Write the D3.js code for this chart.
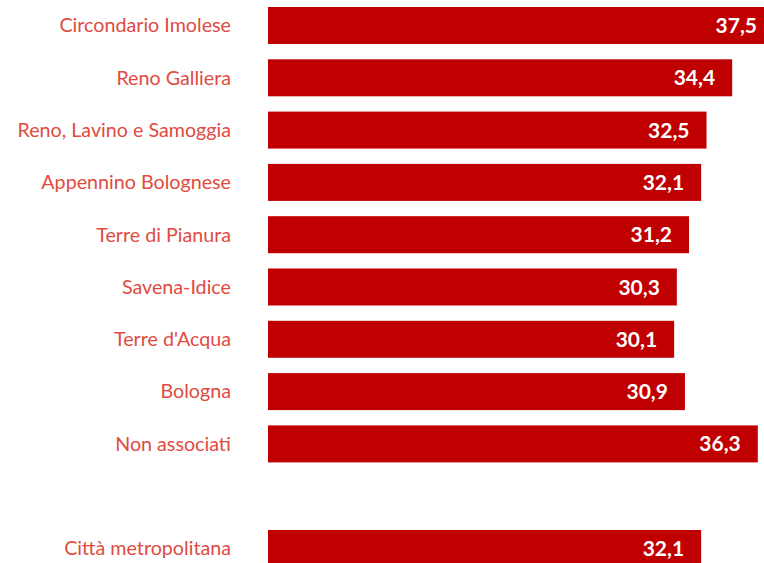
<!DOCTYPE html>
<html>
<head>
<meta charset="utf-8">
<script src="https://cdn.jsdelivr.net/npm/d3@7"></script>
<style>
  body { margin: 0; background: #fff; }
  svg { display: block; }
</style>
</head>
<body>
<svg id="chart" width="764" height="563"></svg>
<script>
// unioni di comuni + totale
let categories = ["Circondario Imolese", "Reno Galliera", "Reno, Lavino e Samoggia",
    "Appennino Bolognese", "Terre di Pianura", "Savena-Idice", "Terre d'Acqua",
    "Bologna", "Non associati"];
let values = [37.5, 34.4, 32.5, 32.1, 31.2, 30.3, 30.1, 30.9, 36.3];
let totalLabel = "Città metropolitana";
let totalValue = 32.1;

let svg = d3.select("#chart");

// one blank slot between the groups and the total
let rows = categories.map((c, i) => ({name: c, value: values[i]}));
let domain = categories.concat([" ", totalLabel]);
rows.push({name: totalLabel, value: totalValue});

let yScale = d3.scaleBand()
    .domain(domain)
    .range([7, 567])
    .paddingInner(0.2925)
    .paddingOuter(0);

let xScale = d3.scaleLinear()
    .domain([0, 37.5])
    .range([268, 774]);

let fmt = d => d.toFixed(1).replace(".", ",");

svg.append("g").selectAll("rect")
    .data(rows)
    .enter().append("rect")
    .attr("x", xScale(0))
    .attr("y", d => yScale(d.name))
    .attr("width", d => xScale(d.value) - xScale(0))
    .attr("height", yScale.bandwidth())
    .style("fill", "#c00000");

svg.append("g").selectAll("text")
    .data(rows)
    .enter().append("text")
    .attr("x", 231)
    .attr("y", d => yScale(d.name) + yScale.bandwidth() / 2)
    .attr("dy", "0.35em")
    .attr("text-anchor", "end")
    .style("font-family", "Lato, 'Open Sans', sans-serif")
    .style("font-size", "19.7px")
    .style("fill", "#e04b3f")
    .text(d => d.name);

svg.append("g").selectAll("text")
    .data(rows)
    .enter().append("text")
    .attr("x", d => xScale(d.value) - 17)
    .attr("y", d => yScale(d.name) + yScale.bandwidth() / 2)
    .attr("dy", "0.36em")
    .attr("text-anchor", "end")
    .style("font-family", "Lato, 'Open Sans', sans-serif")
    .style("font-weight", "bold")
    .style("font-size", "21px")
    .style("fill", "#fff")
    .text(d => fmt(d.value));
</script>
</body>
</html>
